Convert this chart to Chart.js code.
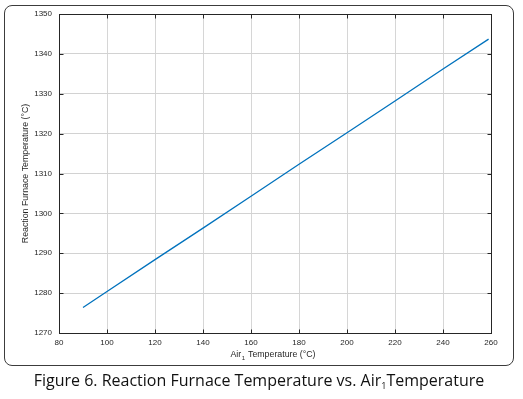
<!DOCTYPE html>
<html>
<head>
<meta charset="utf-8">
<script src="https://cdn.jsdelivr.net/npm/chart.js@4/dist/chart.umd.min.js"></script>
<style>
  html, body { margin: 0; padding: 0; background: #fff; }
  body { width: 523px; height: 399px; position: relative; overflow: hidden; }
  #frame {
    position: absolute; left: 4px; top: 5px; width: 510px; height: 361px;
    box-sizing: border-box; border: 1.5px solid #3c3c3c; border-radius: 8px;
  }
  #wrap { position: absolute; left: 0; top: 0; width: 523px; height: 370px; }
  #caption {
    position: absolute; left: 4px; top: 369px; width: 510px; text-align: center;
    font-family: "Open Sans", "Noto Sans", sans-serif; font-size: 16px; color: #111;
    white-space: nowrap;
  }
  #caption sub { font-size: 9px; vertical-align: -3px; }
</style>
</head>
<body>
<div id="frame"></div>
<div id="wrap"><canvas id="furnaceChart" width="523" height="370"></canvas></div>
<div id="caption">Figure 6. Reaction Furnace Temperature vs. Air<sub>1</sub>Temperature</div>
<script>
// values
const airTemp = [90, 100, 120, 140, 160, 180, 200, 220, 240, 259];
const furnaceTemp = [1276.4, 1280.4, 1288.4, 1296.3, 1304.3, 1312.3, 1320.2, 1328.2, 1336.2, 1343.7];
const xTicks = [80, 100, 120, 140, 160, 180, 200, 220, 240, 260];
const yTicks = [1270, 1280, 1290, 1300, 1310, 1320, 1330, 1340, 1350];

const tickFont = { family: '"Liberation Sans", Arial, sans-serif', size: 8 };
const titleFont = { family: '"Liberation Sans", Arial, sans-serif', size: 8.8 };

// black box round the axes, with inward ticks on all four sides, plus the x title with subscript
const boxPlugin = {
  id: 'boxPlugin',
  afterDatasetsDraw(chart) {
    const ctx = chart.ctx;
    const a = chart.chartArea;
    const xs = chart.scales.x, ys = chart.scales.y;
    const L = Math.round(a.left) + 0.5, R = Math.round(a.right) + 0.5;
    const T = Math.round(a.top) + 0.5, B = Math.round(a.bottom) + 0.5;
    ctx.save();
    ctx.strokeStyle = '#262626';
    ctx.lineWidth = 1;
    ctx.strokeRect(L, T, R - L, B - T);
    ctx.beginPath();
    xTicks.forEach(v => {
      const px = Math.round(xs.getPixelForValue(v)) + 0.5;
      ctx.moveTo(px, B); ctx.lineTo(px, B - 4);
      ctx.moveTo(px, T); ctx.lineTo(px, T + 4);
    });
    yTicks.forEach(v => {
      const py = Math.round(ys.getPixelForValue(v)) + 0.5;
      ctx.moveTo(L, py); ctx.lineTo(L + 4, py);
      ctx.moveTo(R, py); ctx.lineTo(R - 4, py);
    });
    ctx.stroke();

    // x axis title: Air₁ Temperature (°C)
    const cx = (a.left + a.right) / 2 - 2;
    const cy = 357;
    ctx.fillStyle = '#262626';
    ctx.textBaseline = 'alphabetic';
    ctx.font = '8.8px "Liberation Sans", Arial, sans-serif';
    const p1 = 'Air', p3 = ' Temperature (\u00B0C)';
    const w1 = ctx.measureText(p1).width, w3 = ctx.measureText(p3).width;
    ctx.font = '6px "Liberation Sans", Arial, sans-serif';
    const w2 = ctx.measureText('1').width + 1;
    let x0 = cx - (w1 + w2 + w3) / 2;
    ctx.font = '8.8px "Liberation Sans", Arial, sans-serif';
    ctx.textAlign = 'left';
    ctx.fillText(p1, x0, cy);
    ctx.font = '6px "Liberation Sans", Arial, sans-serif';
    ctx.fillText('1', x0 + w1 + 0.5, cy + 3);
    ctx.font = '8.8px "Liberation Sans", Arial, sans-serif';
    ctx.fillText(p3, x0 + w1 + w2, cy);
    ctx.restore();
  }
};

const ctx = document.getElementById('furnaceChart').getContext('2d');
new Chart(ctx, {
  type: 'scatter',
  data: {
    datasets: [{
      data: airTemp.map((x, i) => ({ x: x, y: furnaceTemp[i] })),
      showLine: true,
      borderColor: '#0072BD',
      borderWidth: 1.3,
      pointRadius: 0,
      tension: 0
    }]
  },
  options: {
    responsive: false,
    animation: false,
    events: [],
    layout: { padding: { top: 14, right: 32, left: 0, bottom: 0 } },
    plugins: { legend: { display: false }, tooltip: { enabled: false } },
    scales: {
      x: {
        type: 'linear',
        min: 80, max: 260,
        afterFit: s => { s.height = 37; },
        afterBuildTicks: s => { s.ticks = xTicks.map(v => ({ value: v })); },
        border: { display: false },
        grid: { color: '#d6d6d6', drawTicks: false, lineWidth: 1, borderDash: [1, 1] },
        ticks: { font: tickFont, color: '#262626', padding: 5, maxRotation: 0, callback: v => String(v) },
        title: { display: false }
      },
      y: {
        type: 'linear',
        min: 1270, max: 1350,
        afterFit: s => { s.width = 59; },
        afterBuildTicks: s => { s.ticks = yTicks.map(v => ({ value: v })); },
        border: { display: false },
        grid: { color: '#d2d2d2', drawTicks: false, lineWidth: 1, borderDash: [2, 1] },
        ticks: { font: tickFont, color: '#262626', padding: 7, callback: v => String(v) },
        title: {
          display: true,
          text: 'Reaction Furnace Temperature (\u00B0C)',
          font: titleFont,
          color: '#262626',
          padding: { top: 20.5, bottom: 0 }
        }
      }
    }
  },
  plugins: [boxPlugin]
});
</script>
</body>
</html>
